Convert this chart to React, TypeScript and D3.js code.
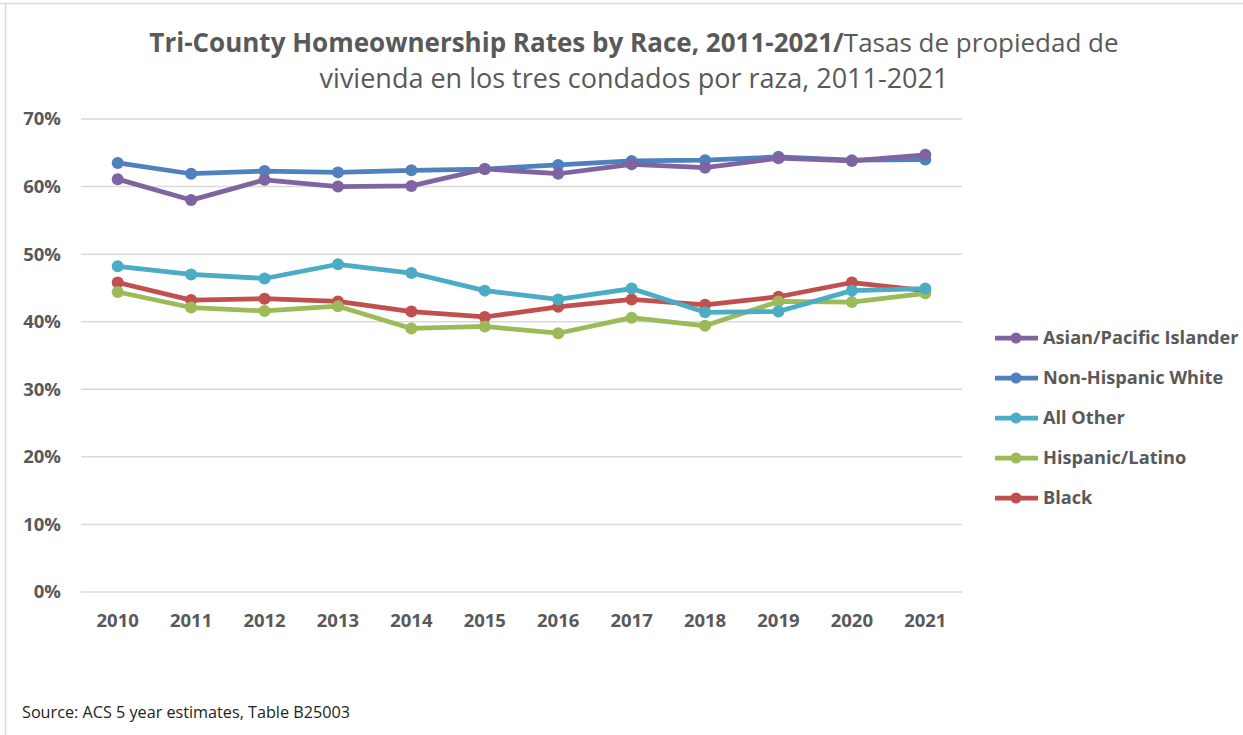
import React from "react";
import * as d3 from "d3";

const years = ["2010", "2011", "2012", "2013", "2014", "2015", "2016", "2017", "2018", "2019", "2020", "2021"];
const yTicks = [0, 10, 20, 30, 40, 50, 60, 70];

const asianPacific = [61.1, 58.0, 61.0, 60.0, 60.1, 62.6, 61.9, 63.3, 62.8, 64.2, 63.8, 64.7];
const nonHispanicWhite = [63.5, 61.9, 62.3, 62.1, 62.4, 62.6, 63.2, 63.8, 63.9, 64.4, 63.9, 64.0];
const allOther = [48.2, 47.0, 46.4, 48.5, 47.2, 44.6, 43.3, 44.9, 41.4, 41.5, 44.6, 44.9];
const hispanicLatino = [44.4, 42.1, 41.6, 42.3, 39.0, 39.3, 38.3, 40.6, 39.4, 43.0, 42.9, 44.2];
const black = [45.8, 43.2, 43.4, 43.0, 41.5, 40.7, 42.2, 43.3, 42.5, 43.7, 45.8, 44.6];

const seriesNames = ["Asian/Pacific Islander", "Non-Hispanic White", "All Other", "Hispanic/Latino", "Black"];
const seriesColors = ["#8064A2", "#4F81BD", "#4BACC6", "#9BBB59", "#C0504D"];
const seriesValues = [asianPacific, nonHispanicWhite, allOther, hispanicLatino, black];

const drawOrder = [4, 3, 2, 1, 0];

export default function App() {
  const W = 1243;
  const H = 735;
  const plotLeft = 81;
  const plotRight = 962;
  const plotTop = 119;
  const plotBottom = 592;

  const x = d3.scaleBand<string>().domain(years).range([plotLeft, plotRight]);
  const y = d3.scaleLinear().domain([0, 70]).range([plotBottom, plotTop]);
  const cx = (yr: string) => (x(yr) as number) + x.bandwidth() / 2;

  const line = d3
    .line<number>()
    .x((_, i) => cx(years[i]))
    .y((d) => y(d));

  const font = "'Open Sans', sans-serif";
  const gray = "#595959";

  return (
    <svg
      width={W}
      height={H}
      style={{ position: "absolute", left: 0, top: 0, background: "#fff" }}
      fontFamily={font}
    >
      <rect x={0} y={0} width={W} height={H} fill="#fff" />
      <line x1={0} x2={W} y1={3.5} y2={3.5} stroke="#d9d9d9" strokeWidth={1.5} />
      <line x1={5.5} x2={5.5} y1={3} y2={H} stroke="#d9d9d9" strokeWidth={1.5} />

      <text x={634} y={52} textAnchor="middle" fontSize={26} fill={gray}>
        <tspan fontWeight="bold">Tri-County Homeownership Rates by Race, 2011-2021/</tspan>
        <tspan>Tasas de propiedad de</tspan>
      </text>
      <text x={634} y={88} textAnchor="middle" fontSize={27} fill={gray}>
        vivienda en los tres condados por raza, 2011-2021
      </text>

      {yTicks.map((t) => (
        <g key={t}>
          <line x1={plotLeft} x2={plotRight} y1={y(t)} y2={y(t)} stroke="#d9d9d9" strokeWidth={1.5} />
          <text x={61} y={y(t)} dy="0.35em" textAnchor="end" fontSize={18.5} fontWeight="bold" fill={gray}>
            {t}%
          </text>
        </g>
      ))}

      {years.map((yr) => (
        <text key={yr} x={cx(yr)} y={627} textAnchor="middle" fontSize={18.5} fontWeight="bold" fill={gray}>
          {yr}
        </text>
      ))}

      {drawOrder.map((si) => (
        <g key={si}>
          <path d={line(seriesValues[si]) || ""} fill="none" stroke={seriesColors[si]} strokeWidth={4.75} strokeLinejoin="round" />
          {seriesValues[si].map((v, i) => (
            <circle key={i} cx={cx(years[i])} cy={y(v)} r={6} fill={seriesColors[si]} />
          ))}
        </g>
      ))}

      {seriesNames.map((name, i) => {
        const ly = 338 + i * 40;
        return (
          <g key={name}>
            <line x1={995} x2={1038} y1={ly} y2={ly} stroke={seriesColors[i]} strokeWidth={4.75} />
            <circle cx={1016} cy={ly} r={5.5} fill={seriesColors[i]} />
            <text x={1043} y={ly} dy="0.35em" fontSize={18.2} fontWeight="bold" fill={gray}>
              {name}
            </text>
          </g>
        );
      })}

      <text x={22} y={718} fontSize={16.2} fill="#222">
        Source: ACS 5 year estimates, Table B25003
      </text>
    </svg>
  );
}
